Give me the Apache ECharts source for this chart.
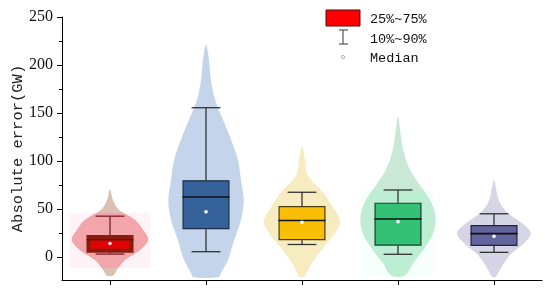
<!DOCTYPE html>
<html>
<head>
<meta charset="utf-8">
<script src="https://cdn.jsdelivr.net/npm/echarts@6/dist/echarts.min.js"></script>
<style>
html,body{margin:0;padding:0;background:#fff;}
#chart{width:550px;height:296px;}
</style>
</head>
<body>
<div id="chart"></div>
<script>
// categories (no labels shown on the x axis)
var categories = ['1', '2', '3', '4', '5'];

// box statistics
var p10 = [3, 5.5, 13, 2.8, 4.8];
var q1 = [4.5, 29, 17.4, 11.8, 11.5];
var median = [18, 62.5, 38, 39.6, 24.3];
var mean = [14, 47, 36, 36.8, 21.5];
var q3 = [22.9, 80, 53, 56.6, 33.3];
var p90 = [42.5, 155.5, 67.4, 69.8, 45];

// violin outlines: [value, relative width], top to bottom
var violinRed = [[70.5,0],[59,0.08],[49,0.24],[38.5,0.66],[28,0.87],[17.7,1],[7.3,0.79],[-3,0.4],[-11.8,0.21],[-18.8,0.1],[-20,0.03]];
var violinBlue = [[221,0],[205,0.08],[184,0.13],[163.5,0.24],[142.7,0.45],[122,0.66],[101,0.84],[80,0.92],[59,0.99],[38.5,0.92],[17.7,0.74],[-3,0.58],[-17,0.39],[-21,0.34]];
var violinYellow = [[115,0],[101,0.08],[87,0.13],[76.7,0.32],[66,0.58],[56,0.74],[42,0.97],[35,1],[24.7,0.87],[10.7,0.58],[-3,0.32],[-13.5,0.16],[-20.5,0.06]];
var violinGreen = [[146,0],[125,0.08],[108,0.16],[90.6,0.32],[73,0.61],[59,0.84],[42,0.99],[24.7,0.92],[7.3,0.66],[-6.6,0.39],[-19,0.18]];
var violinPurple = [[80,0],[66,0.08],[56,0.16],[45.5,0.37],[35,0.74],[24.7,0.97],[14.3,0.79],[3.8,0.47],[-6.6,0.26],[-15.3,0.13],[-20.5,0.05]];
var violins = [violinRed, violinBlue, violinYellow, violinGreen, violinPurple];

// y axis ticks
var tickValues = [0, 50, 100, 150, 200, 250];
var minorTickValues = [25, 75, 125, 175, 225];

var legendLabels = ['25%~75%', '10%~90%', 'Median'];

var violinColor = ['#dcc1b3', '#c4d4ea', '#f6ecc0', '#c9e9d6', '#d5d5e6'];
var boxColor = ['#e20404', '#35629b', '#f8bf06', '#33c275', '#63639e'];
var edgeColor = ['#8a1c0e', '#1e2c40', '#4a3c10', '#1f3a28', '#22223e'];
var whiskerColor = ['#7a1c2a', '#333', '#333', '#333', '#333'];
// soft highlight band behind some boxes
var glow = [
	{top: 46, bottom: -11.5, half: 0.42, inner: '#f2a5ab', outer: 'rgba(255,140,190,0.10)'},
	null,
	null,
	{top: 70, bottom: -21, half: 0.37, inner: '#bdeed3', outer: 'rgba(110,255,190,0.06)'},
	null
];

var myChart = echarts.init(document.getElementById('chart'));

function renderViolin(params, api) {
	var i = api.value(0);
	var band = api.size([1, 0])[0];
	var cx = api.coord([i, 0])[0];
	var y = function (v) { return api.coord([i, v])[1]; };
	var half = band * 0.396;
	var prof = violins[i];
	var pts = [];
	for (var k = 0; k < prof.length; k++) {
		pts.push([cx + prof[k][1] * half, y(prof[k][0])]);
	}
	for (var k = prof.length - 1; k >= 0; k--) {
		if (k == 0 && prof[k][1] == 0) continue;
		pts.push([cx - prof[k][1] * half, y(prof[k][0])]);
	}
	var children = [];
	if (glow[i]) {
		var g = glow[i];
		children.push({
			type: 'rect',
			shape: {x: cx - g.half * band, y: y(g.top), width: 2 * g.half * band, height: y(g.bottom) - y(g.top)},
			style: {fill: g.outer}
		});
	}
	children.push({
		type: 'polygon',
		shape: {points: pts, smooth: 0.35},
		style: {fill: violinColor[i], stroke: null}
	});
	if (glow[i]) {
		var g = glow[i];
		children.push({
			type: 'group',
			clipPath: {type: 'rect', shape: {x: cx - g.half * band, y: y(g.top), width: 2 * g.half * band, height: y(g.bottom) - y(g.top)}},
			children: [{
				type: 'polygon',
				shape: {points: pts, smooth: 0.35},
				style: {fill: g.inner, stroke: null}
			}]
		});
	}
	var capHalf = band * 0.15;
	var boxHalf = band * 0.245;
	var wc = whiskerColor[i];
	children.push({type: 'line', shape: {x1: cx, y1: y(p90[i]), x2: cx, y2: y(q3[i])}, style: {stroke: wc, lineWidth: 1.3}});
	children.push({type: 'line', shape: {x1: cx, y1: y(q1[i]), x2: cx, y2: y(p10[i])}, style: {stroke: wc, lineWidth: 1.3}});
	children.push({type: 'line', shape: {x1: cx - capHalf, y1: y(p90[i]), x2: cx + capHalf, y2: y(p90[i])}, style: {stroke: wc, lineWidth: 1.3}});
	children.push({type: 'line', shape: {x1: cx - capHalf, y1: y(p10[i]), x2: cx + capHalf, y2: y(p10[i])}, style: {stroke: wc, lineWidth: 1.3}});
	var bw = i == 0 ? 4 : 1.2;
	children.push({
		type: 'rect',
		shape: {x: cx - boxHalf + bw / 2, y: y(q3[i]) + bw / 2, width: 2 * boxHalf - bw, height: y(q1[i]) - y(q3[i]) - bw},
		style: {fill: boxColor[i], stroke: edgeColor[i], lineWidth: bw}
	});
	children.push({
		type: 'line',
		shape: {x1: cx - boxHalf, y1: y(median[i]), x2: cx + boxHalf, y2: y(median[i])},
		style: {stroke: i == 0 ? '#6a1008' : '#111', lineWidth: 1.6}
	});
	children.push({
		type: 'circle',
		shape: {cx: cx, cy: y(mean[i]), r: 1.8},
		style: {fill: i == 0 ? '#ffe0e8' : '#fff'}
	});
	return {type: 'group', children: children};
}

var seriesData = [];
for (var i = 0; i < categories.length; i++) {
	seriesData.push([i]);
}

var option = {
	animation: false,
	grid: {left: 62, right: 8, top: 17, bottom: 16, outerBoundsMode: 'none'},
	xAxis: {
		type: 'category',
		data: categories,
		boundaryGap: true,
		axisLine: {show: true, onZero: false, lineStyle: {color: '#000', width: 1}},
		axisTick: {show: true, alignWithLabel: true, length: 5, lineStyle: {color: '#000'}},
		axisLabel: {show: false},
		splitLine: {show: false}
	},
	yAxis: [{
		type: 'value',
		min: -24,
		max: 250,
		name: 'Absolute error(GW)',
		nameLocation: 'middle',
		nameGap: 36,
		nameMoveOverlap: false,
		nameTextStyle: {fontFamily: 'Liberation Mono', fontSize: 15.5, color: '#222'},
		axisLine: {show: true, lineStyle: {color: '#000', width: 1}},
		axisTick: {show: true, length: 5, customValues: tickValues, lineStyle: {color: '#000'}},
		axisLabel: {customValues: tickValues, margin: 9, fontFamily: 'Liberation Serif', fontSize: 16, color: '#111'},
		splitLine: {show: false}
	}, {
		type: 'value',
		min: -24,
		max: 250,
		position: 'left',
		axisLine: {show: false},
		axisTick: {show: true, length: 3, customValues: minorTickValues, lineStyle: {color: '#000'}},
		axisLabel: {show: false},
		splitLine: {show: false}
	}],
	graphic: [
		{type: 'rect', shape: {x: 326, y: 10, width: 34, height: 16}, style: {fill: '#ff0000', stroke: '#5a0a0a', lineWidth: 1}},
		{type: 'line', shape: {x1: 343, y1: 30, x2: 343, y2: 44}, style: {stroke: '#555', lineWidth: 1.2}},
		{type: 'line', shape: {x1: 339, y1: 30, x2: 348, y2: 30}, style: {stroke: '#555', lineWidth: 1.2}},
		{type: 'line', shape: {x1: 339, y1: 44, x2: 348, y2: 44}, style: {stroke: '#555', lineWidth: 1.2}},
		{type: 'circle', shape: {cx: 343, cy: 57, r: 1.6}, style: {fill: '#fff', stroke: '#999', lineWidth: 0.8}},
		{type: 'text', x: 370, y: 19, style: {text: legendLabels[0], font: '13.5px "Liberation Mono"', fill: '#111', textVerticalAlign: 'middle'}},
		{type: 'text', x: 370, y: 39, style: {text: legendLabels[1], font: '13.5px "Liberation Mono"', fill: '#111', textVerticalAlign: 'middle'}},
		{type: 'text', x: 370, y: 58, style: {text: legendLabels[2], font: '13.5px "Liberation Mono"', fill: '#111', textVerticalAlign: 'middle'}}
	],
	series: [{
		type: 'custom',
		renderItem: renderViolin,
		encode: {x: 0},
		data: seriesData,
		clip: false
	}]
};
myChart.setOption(option, true);
</script>
</body>
</html>
